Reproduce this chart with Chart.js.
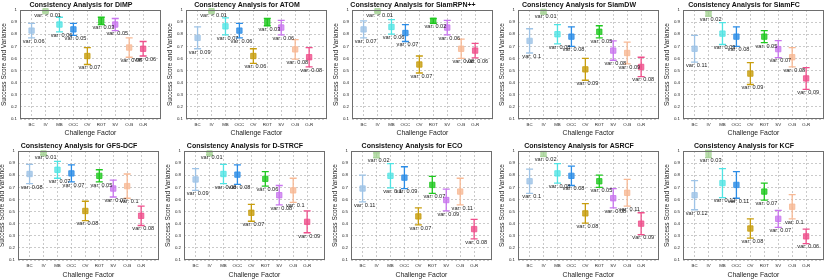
<!DOCTYPE html>
<html><head><meta charset="utf-8">
<script src="https://cdn.jsdelivr.net/npm/chart.js@4/dist/chart.umd.min.js"></script>
<style>
body{margin:0;background:#fff;width:830px;height:279px;position:relative;overflow:hidden}
canvas{position:absolute}
</style></head><body>
<script>
const categories = ['BC','IV','MB','OCC','OV','ROT','SV','O-B','O-R'];
const yTicks = [0.1,0.2,0.3,0.4,0.5,0.6,0.7,0.8,0.9,1];
const trackers = ['DiMP','ATOM','SiamRPN++','SiamDW','SiamFC','GFS-DCF','D-STRCF','ECO','ASRCF','KCF'];

const meanDiMP   = [0.83,0.99,0.88,0.84,0.62,0.91,0.88,0.69,0.68];
const varDiMP    = [0.06,0.005,0.06,0.05,0.07,0.03,0.05,0.08,0.06];
const meanATOM   = [0.77,0.99,0.865,0.83,0.62,0.90,0.855,0.675,0.61];
const varATOM    = [0.09,0.005,0.07,0.06,0.06,0.03,0.06,0.08,0.08];
const meanRPN    = [0.84,0.99,0.86,0.81,0.55,0.91,0.855,0.68,0.665];
const varRPN     = [0.07,0.005,0.06,0.07,0.07,0.02,0.06,0.08,0.06];
const meanDW     = [0.745,0.985,0.80,0.78,0.51,0.82,0.665,0.645,0.53];
const varDW      = [0.1,0.01,0.08,0.08,0.09,0.05,0.08,0.09,0.08];
const meanFC     = [0.68,0.97,0.805,0.78,0.475,0.78,0.677,0.61,0.435];
const varFC      = [0.11,0.02,0.09,0.08,0.09,0.05,0.07,0.08,0.09];
const meanGFS    = [0.81,0.98,0.845,0.815,0.505,0.795,0.69,0.71,0.465];
const varGFS     = [0.08,0.01,0.07,0.07,0.08,0.05,0.07,0.1,0.08];
const meanDSTRCF = [0.765,0.98,0.81,0.805,0.49,0.77,0.635,0.675,0.415];
const varDSTRCF  = [0.09,0.01,0.08,0.08,0.07,0.06,0.08,0.1,0.09];
const meanECO    = [0.69,0.965,0.795,0.78,0.46,0.72,0.595,0.665,0.355];
const varECO     = [0.11,0.02,0.1,0.09,0.07,0.07,0.09,0.11,0.08];
const meanASRCF  = [0.75,0.975,0.815,0.795,0.485,0.75,0.61,0.655,0.40];
const varASRCF   = [0.1,0.02,0.08,0.08,0.08,0.05,0.08,0.11,0.09];
const meanKCF    = [0.635,0.975,0.735,0.72,0.36,0.665,0.44,0.54,0.295];
const varKCF     = [0.12,0.03,0.12,0.11,0.08,0.07,0.07,0.1,0.06];

const allMeans = [meanDiMP,meanATOM,meanRPN,meanDW,meanFC,meanGFS,meanDSTRCF,meanECO,meanASRCF,meanKCF];
const allVars  = [varDiMP,varATOM,varRPN,varDW,varFC,varGFS,varDSTRCF,varECO,varASRCF,varKCF];

const colors = ['#9ec3e6','#a9d49a','#4fe3e3','#2b8ce6','#c79d0e','#1fc81f','#c874ee','#f7b995','#ef4f8b'];
const fills  = ['rgba(158,195,230,0.8)','rgba(169,212,154,0.8)','rgba(79,227,227,0.75)','rgba(43,140,230,0.8)','rgba(199,157,14,0.8)','rgba(31,200,31,0.8)','rgba(200,116,238,0.75)','rgba(247,185,149,0.8)','rgba(239,79,139,0.8)'];

const canvasLeft = [[0,166,332,498,663],[-2,164,331,498,663]];
const canvasTop = [0,141];
const canvasH = [139,140];
const FONT = "'Liberation Sans', Arial, sans-serif";

const framePlugin = {
  id:'frame',
  afterDraw(chart){
    const a = chart.chartArea, ctx = chart.ctx;
    ctx.save(); ctx.strokeStyle='#6e6e6e'; ctx.lineWidth=1;
    ctx.strokeRect(Math.round(a.left)+0.5, Math.round(a.top)+0.5, Math.round(a.right-a.left)-1, Math.round(a.bottom-a.top)-1);
    ctx.restore();
  }
};
const varLabelPlugin = {
  id:'varLabels',
  afterDatasetsDraw(chart, args, opts){
    const ctx = chart.ctx, xs = chart.scales.x, ys = chart.scales.y;
    ctx.save();
    ctx.font = '5.6px ' + FONT; ctx.fillStyle = '#222';
    ctx.textAlign = 'center'; ctx.textBaseline = 'middle';
    opts.means.forEach((m,i)=>{
      const v = opts.vars[i];
      const txt = v < 0.01 ? 'var: < 0.01' : 'var: ' + v;
      ctx.fillText(txt, xs.getPixelForValue(i+1+0.15), ys.getPixelForValue(m - v - 0.027));
    });
    ctx.restore();
  }
};

trackers.forEach((name, k)=>{
  const row = Math.floor(k/5), col = k%5;
  const cv = document.createElement('canvas');
  cv.width = 166; cv.height = canvasH[row];
  cv.style.left = canvasLeft[row][col]+'px'; cv.style.top = canvasTop[row]+'px';
  document.body.appendChild(cv);
  const means = allMeans[k], vars = allVars[k];
  const datasets = [];
  categories.forEach((c,i)=>{
    datasets.push({
      type:'scatter', showLine:true,
      data:[{x:i+1,y:means[i]-vars[i]},{x:i+1,y:means[i]+vars[i]}],
      borderColor:colors[i], borderWidth:1.3,
      pointStyle:'line', pointRadius:3.5, pointBorderColor:colors[i], pointBorderWidth:1.3,
      clip:3
    });
  });
  datasets.push({
    type:'scatter',
    data: means.map((m,i)=>({x:i+1,y:m})),
    pointStyle:'rect', pointRadius:3.8,
    backgroundColor: fills, pointBackgroundColor: fills, pointBorderColor: colors, pointBorderWidth:0.8,
    clip:3
  });
  new Chart(cv, {
    type:'scatter',
    data:{datasets},
    options:{
      responsive:false, animation:false, events:[],
      layout:{padding:{left:0,right:4,top:0,bottom:0}},
      plugins:{
        legend:{display:false}, tooltip:{enabled:false},
        title:{display:true, text:'Consistency Analysis for ' + name, color:'#111',
          font:{family:FONT, size:7, weight:'bold', lineHeight:1}, padding:{top:1.5,bottom:1.5}},
        varLabels:{means, vars}
      },
      scales:{
        x:{type:'linear', min:0.17, max:10.26,
          afterBuildTicks(s){ s.ticks = categories.map((c,i)=>({value:i+1})); },
          afterFit(s){ s.height = canvasH[row]-119; },
          ticks:{autoSkip:false, maxRotation:0, padding:3, color:'#222', font:{family:FONT,size:4.4},
            callback:(v)=>categories[Math.round(v)-1] ?? ''},
          grid:{color:'#b4b4b4', lineWidth:0.7, drawTicks:false},
          border:{display:false, dash:[2,2]},
          title:{display:true, text:'Challenge Factor', color:'#222', font:{family:FONT,size:6.8}, padding:{top:0,bottom:2}}
        },
        y:{min:0.1, max:1,
          afterBuildTicks(s){ s.ticks = yTicks.map(v=>({value:v})); },
          afterFit(s){ s.width = 20; },
          ticks:{padding:3, color:'#222', font:{family:FONT,size:4.4}, callback:(v)=>String(+v.toFixed(1))},
          grid:{color:'#b4b4b4', lineWidth:0.7, drawTicks:false},
          border:{display:false, dash:[2,2]},
          title:{display:true, text:'Success Score and Variance', color:'#222', font:{family:FONT,size:6.5}, padding:{top:0,bottom:1}}
        }
      }
    },
    plugins:[framePlugin, varLabelPlugin]
  });
});
</script>
</body></html>
